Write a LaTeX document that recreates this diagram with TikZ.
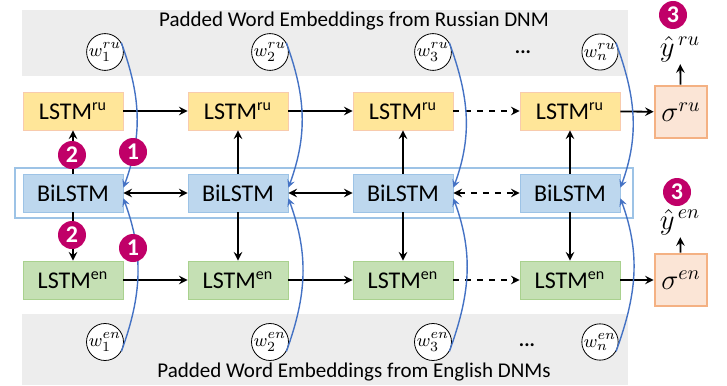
\documentclass[tikz,border=0pt]{standalone}
\usepackage{fontspec}
\setmainfont{Carlito}
\usetikzlibrary{arrows,positioning,shapes}

\definecolor{rufill}{HTML}{FFE699}
\definecolor{ruline}{HTML}{F8CBAD}
\definecolor{bifill}{HTML}{BDD7EE}
\definecolor{biline}{HTML}{9DC3E6}
\definecolor{enfill}{HTML}{C5E0B4}
\definecolor{enline}{HTML}{A9D18E}
\definecolor{sgfill}{HTML}{FBE5D6}
\definecolor{sgline}{HTML}{F4B183}
\definecolor{badge}{HTML}{C00068}
\definecolor{curve}{HTML}{4472C4}
\definecolor{band}{HTML}{EDEDED}

\tikzset{
  cell/.style={minimum width=50pt, minimum height=19pt, inner sep=0pt, font=\fontsize{12}{14}\selectfont},
  lstmru/.style={cell, draw=ruline, fill=rufill},
  lstmen/.style={cell, draw=enline, fill=enfill},
  bilstm/.style={cell, draw=biline, fill=bifill},
  sigmabox/.style={draw=sgline, fill=sgfill, line width=1.3pt, minimum width=26pt, minimum height=26pt, inner sep=0pt},
  wnode/.style={circle, draw, fill=white, minimum size=18pt, inner sep=0pt, font=\fontsize{9.5}{10}\selectfont},
  badgenode/.style={circle, fill=badge, text=white, minimum size=14pt, inner sep=0pt, font=\fontsize{12}{12}\selectfont\bfseries},
  flow/.style={->, >=stealth, line width=0.9pt},
  feed/.style={->, >=stealth, curve, line width=0.7pt}
}

\begin{document}
\begin{tikzpicture}[x=0.5pt, y=-0.5pt]
  \useasboundingbox (0,0) rectangle (727,385);
  % embedding bands
  \fill[band] (22,10) rectangle (628,76);
  \fill[band] (22,314) rectangle (628,385);
  \node (captru) at (354,21) {\fontsize{10.5}{12}\selectfont Padded Word Embeddings from Russian DNM};
  \node (capten) at (354,372) {\fontsize{10.5}{12}\selectfont Padded Word Embeddings from English DNMs};
  % shared encoder frame
  \draw[biline, line width=1.1pt] (15,168) rectangle (633,218);

  \node[lstmru] (ru1) at (73,111) {LSTM\textsuperscript{ru}};
  \node[lstmru] (ru2) at (238,111) {LSTM\textsuperscript{ru}};
  \node[lstmru] (ru3) at (403,111) {LSTM\textsuperscript{ru}};
  \node[lstmru] (ru4) at (570,111) {LSTM\textsuperscript{ru}};
  \node[bilstm] (bi1) at (73,193) {BiLSTM};
  \node[bilstm] (bi2) at (238,193) {BiLSTM};
  \node[bilstm] (bi3) at (403,193) {BiLSTM};
  \node[bilstm] (bi4) at (570,193) {BiLSTM};
  \node[lstmen] (en1) at (73,280) {LSTM\textsuperscript{en}};
  \node[lstmen] (en2) at (238,280) {LSTM\textsuperscript{en}};
  \node[lstmen] (en3) at (403,280) {LSTM\textsuperscript{en}};
  \node[lstmen] (en4) at (570,280) {LSTM\textsuperscript{en}};

  \node[sigmabox] (sru) at (681,112) {\Large$\sigma^{ru}$};
  \node[sigmabox] (sen) at (681,280) {\Large$\sigma^{en}$};
  \node[inner sep=1pt] (yru) at (680,49) {\Large$\hat{y}^{\,ru}$};
  \node[inner sep=1pt] (yen) at (680,222) {\Large$\hat{y}^{\,en}$};

  \node[wnode] (wru1) at (105,52) {$w_1^{ru}$};
  \node[wnode] (wru2) at (270,52) {$w_2^{ru}$};
  \node[wnode] (wru3) at (433,52) {$w_3^{ru}$};
  \node[wnode] (wrun) at (600,52) {$w_n^{ru}$};
  \node (dotsru) at (523,52) {\textbf{...}};
  \node[wnode] (wen1) at (105,342) {$w_1^{en}$};
  \node[wnode] (wen2) at (270,342) {$w_2^{en}$};
  \node[wnode] (wen3) at (433,342) {$w_3^{en}$};
  \node[wnode] (wenn) at (600,342) {$w_n^{en}$};
  \node (dotsen) at (527,345) {\textbf{...}};

  % recurrent links
  \draw[flow] (ru1) -- (ru2);
  \draw[flow] (ru2) -- (ru3);
  \draw[flow, dashed] (ru3) -- (ru4);
  \draw[flow] (ru4) -- (sru);
  \draw[flow, <->] (bi1) -- (bi2);
  \draw[flow, <->] (bi2) -- (bi3);
  \draw[flow, <->, dashed] (bi3) -- (bi4);
  \draw[flow] (en1) -- (en2);
  \draw[flow] (en2) -- (en3);
  \draw[flow, dashed] (en3) -- (en4);
  \draw[flow] (en4) -- (sen);
  \draw[flow] (sru) -- (yru);
  \draw[flow] (sen) -- (yen);

  % encoder to decoders
  \draw[flow] (bi1) -- (ru1);
  \draw[flow] (bi2) -- (ru2);
  \draw[flow] (bi3) -- (ru3);
  \draw[flow] (bi4) -- (ru4);
  \draw[flow] (bi1) -- (en1);
  \draw[flow] (bi2) -- (en2);
  \draw[flow] (bi3) -- (en3);
  \draw[flow] (bi4) -- (en4);

  % word embeddings into the encoder
  \draw[feed] (wru1.30) to[out=-70, in=70] (bi1.6);
  \draw[feed] (wru2.30) to[out=-70, in=70] (bi2.6);
  \draw[feed] (wru3.30) to[out=-70, in=70] (bi3.6);
  \draw[feed] (wrun.30) to[out=-70, in=70] (bi4.6);
  \draw[feed] (wen1.-30) to[out=70, in=-70] (bi1.-6);
  \draw[feed] (wen2.-30) to[out=70, in=-70] (bi2.-6);
  \draw[feed] (wen3.-30) to[out=70, in=-70] (bi3.-6);
  \draw[feed] (wenn.-30) to[out=70, in=-70] (bi4.-6);

  \node[badgenode] (one1) at (133,152) {1};
  \node[badgenode] (two1) at (72,155) {2};
  \node[badgenode] (one2) at (133,248) {1};
  \node[badgenode] (two2) at (72,235) {2};
  \node[badgenode] (three1) at (673,15) {3};
  \node[badgenode] (three2) at (677,192) {3};
\end{tikzpicture}
\end{document}
